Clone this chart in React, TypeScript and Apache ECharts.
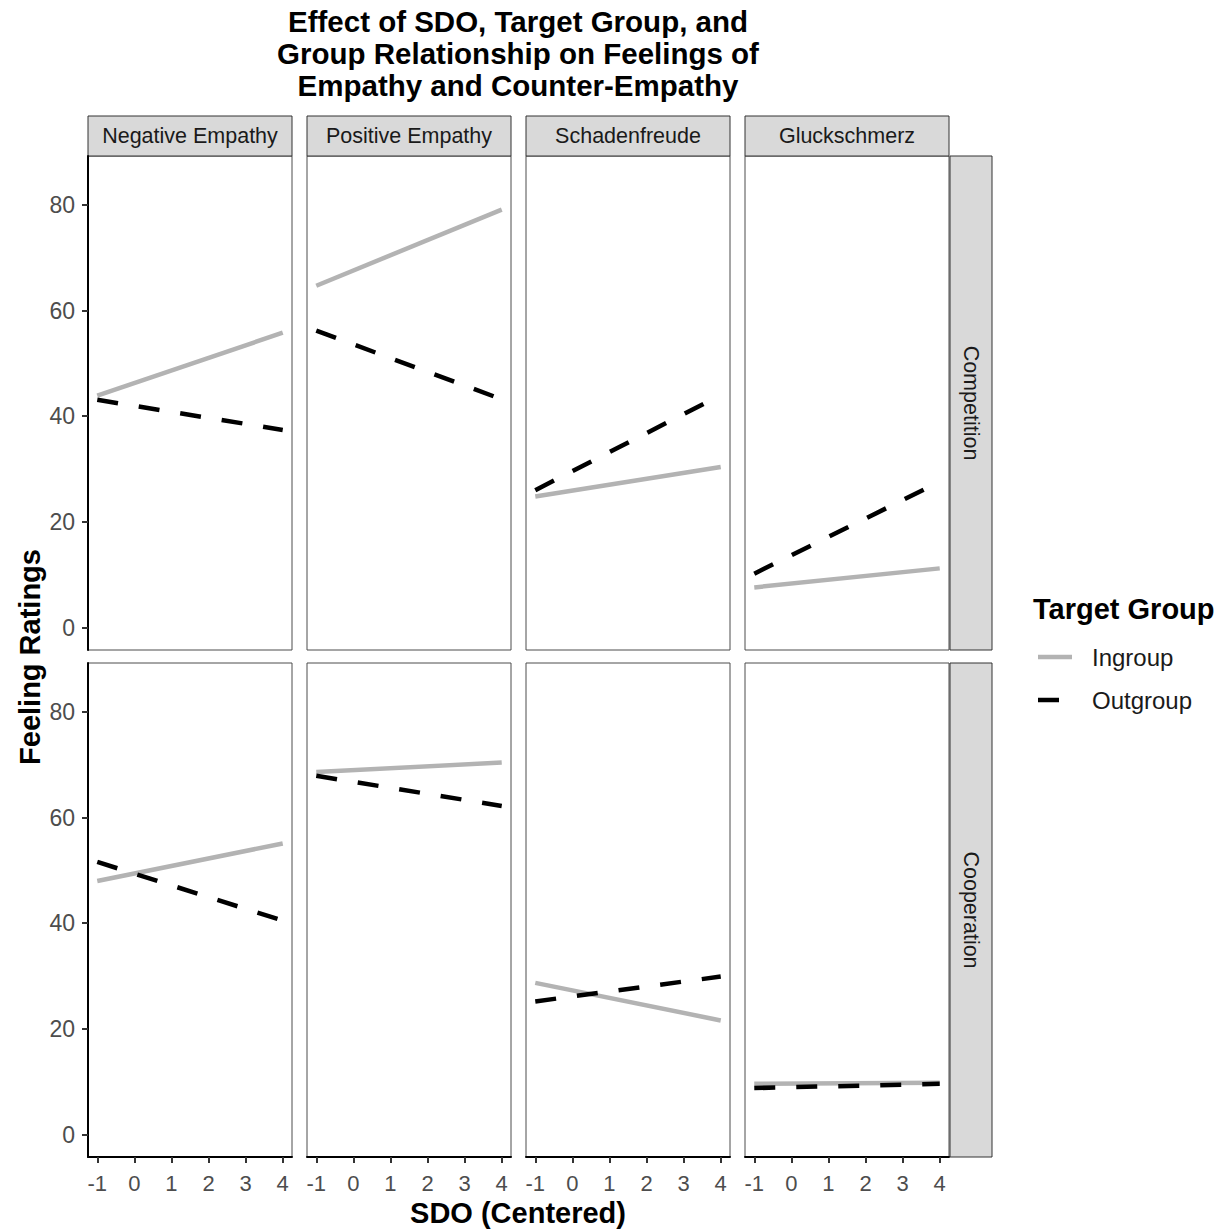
import React, { useEffect, useRef } from "react";
import * as echarts from "echarts";

const facets = ["Negative Empathy", "Positive Empathy", "Schadenfreude", "Gluckschmerz"];
const relationships = ["Competition", "Cooperation"];
const groups = ["Ingroup", "Outgroup"];
const sdoEnds = [-1, 4];
const xTicks = [-1, 0, 1, 2, 3, 4];
const yTicks = [0, 20, 40, 60, 80];
// fitted values at SDO = -1 and SDO = 4, one pair per facet
const ingroupCompetition = [[43.9, 55.8], [64.7, 79.1], [24.8, 30.4], [7.6, 11.2]];
const outgroupCompetition = [[43.1, 37.4], [56.2, 43.2], [26.0, 44.0], [10.2, 27.6]];
const ingroupCooperation = [[48.0, 55.1], [68.6, 70.4], [28.7, 21.6], [9.6, 9.8]];
const outgroupCooperation = [[51.6, 40.5], [67.9, 62.2], [25.2, 29.9], [8.8, 9.6]];

const titleLines = ["Effect of SDO, Target Group, and", "Group Relationship on Feelings of", "Empathy and Counter-Empathy"];

const FONT = "'Liberation Sans', Arial, Helvetica, sans-serif";
const IN_COLOR = "#B3B3B3";
const OUT_COLOR = "#000000";

export default function App() {
  const ref = useRef<HTMLDivElement>(null);
  useEffect(() => {
    if (!ref.current) return;
    const chart = echarts.init(ref.current, undefined, { renderer: "svg" });
    const panelLeft = (c: number) => 88 + c * 219;
    const panelW = 204;
    const panelTop = [156, 663];
    const panelH = 494;

    const grids: any[] = [];
    const xAxes: any[] = [];
    const yAxes: any[] = [];
    const series: any[] = [];
    const graphic: any[] = [];
    const dataByRow = [
      [ingroupCompetition, outgroupCompetition],
      [ingroupCooperation, outgroupCooperation],
    ];

    for (let r = 0; r < 2; r++) {
      for (let c = 0; c < 4; c++) {
        const idx = r * 4 + c;
        grids.push({
          left: panelLeft(c),
          top: panelTop[r],
          width: panelW,
          height: panelH,
          show: true,
          borderColor: "#4d4d4d",
          borderWidth: 1,
          backgroundColor: "#fff",
        });
        const bottomRow = r === 1;
        const firstCol = c === 0;
        xAxes.push({
          gridIndex: idx,
          type: "value",
          min: -1.25,
          max: 4.25,
          splitLine: { show: false },
          axisLine: { show: bottomRow, onZero: false, lineStyle: { color: "#000", width: 2 } },
          axisTick: {
            show: bottomRow,
            customValues: xTicks,
            length: 6,
            lineStyle: { color: "#333", width: 2 },
          },
          axisLabel: {
            show: bottomRow,
            customValues: xTicks,
            formatter: (v: number) => String(v),
            fontSize: 22,
            color: "#4d4d4d",
            fontFamily: FONT,
            margin: 15,
          },
        });
        yAxes.push({
          gridIndex: idx,
          type: "value",
          min: -4.25,
          max: 89.25,
          splitLine: { show: false },
          axisLine: { show: firstCol, onZero: false, lineStyle: { color: "#000", width: 2 } },
          axisTick: {
            show: firstCol,
            customValues: yTicks,
            length: 6,
            lineStyle: { color: "#333", width: 2 },
          },
          axisLabel: {
            show: firstCol,
            customValues: yTicks,
            formatter: (v: number) => String(v),
            fontSize: 23,
            color: "#4d4d4d",
            fontFamily: FONT,
            margin: 13,
          },
        });
        groups.forEach((g, gi) => {
          const vals = dataByRow[r][gi][c];
          series.push({
            type: "line",
            name: g,
            xAxisIndex: idx,
            yAxisIndex: idx,
            data: sdoEnds.map((x, i) => [x, vals[i]]),
            showSymbol: false,
            symbol: "none",
            z: 2 + gi,
            lineStyle: {
              color: gi === 0 ? IN_COLOR : OUT_COLOR,
              width: 4.5,
              type: gi === 0 ? "solid" : [21, 21],
              cap: "butt",
            },
          });
        });
      }
    }

    // top strips
    facets.forEach((f, c) => {
      graphic.push({
        type: "rect",
        shape: { x: panelLeft(c), y: 116, width: panelW, height: 40 },
        style: { fill: "#D9D9D9", stroke: "#333", lineWidth: 1 },
      });
      graphic.push({
        type: "text",
        x: panelLeft(c) + panelW / 2,
        y: 136,
        style: {
          text: f,
          fill: "#1a1a1a",
          font: `21.5px ${FONT}`,
          textAlign: "center",
          textVerticalAlign: "middle",
        },
      });
    });
    // right strips
    relationships.forEach((rel, r) => {
      graphic.push({
        type: "rect",
        shape: { x: 950, y: panelTop[r], width: 42, height: panelH },
        style: { fill: "#D9D9D9", stroke: "#333", lineWidth: 1 },
      });
      graphic.push({
        type: "text",
        x: 971,
        y: panelTop[r] + panelH / 2,
        rotation: -Math.PI / 2,
        style: {
          text: rel,
          fill: "#1a1a1a",
          font: `21.5px ${FONT}`,
          textAlign: "center",
          textVerticalAlign: "middle",
        },
      });
    });
    // title
    titleLines.forEach((t, i) => {
      graphic.push({
        type: "text",
        x: 518,
        y: 21 + i * 32,
        style: {
          text: t,
          fill: "#000",
          font: `bold 29.5px ${FONT}`,
          textAlign: "center",
          textVerticalAlign: "middle",
        },
      });
    });
    // axis titles
    graphic.push({
      type: "text",
      x: 30,
      y: 657,
      rotation: Math.PI / 2,
      style: {
        text: "Feeling Ratings",
        fill: "#000",
        font: `bold 29px ${FONT}`,
        textAlign: "center",
        textVerticalAlign: "middle",
      },
    });
    graphic.push({
      type: "text",
      x: 518,
      y: 1213,
      style: {
        text: "SDO (Centered)",
        fill: "#000",
        font: `bold 29px ${FONT}`,
        textAlign: "center",
        textVerticalAlign: "middle",
      },
    });
    // legend
    graphic.push({
      type: "text",
      x: 1033,
      y: 609,
      style: {
        text: "Target Group",
        fill: "#000",
        font: `bold 29px ${FONT}`,
        textAlign: "left",
        textVerticalAlign: "middle",
      },
    });
    groups.forEach((g, gi) => {
      const y = 657 + gi * 43;
      graphic.push({
        type: "line",
        shape: { x1: 1038, y1: y, x2: 1072, y2: y },
        style: {
          stroke: gi === 0 ? IN_COLOR : OUT_COLOR,
          lineWidth: 4.5,
          lineDash: gi === 0 ? null : [21, 21],
          lineCap: "butt",
        },
      });
      graphic.push({
        type: "text",
        x: 1092,
        y,
        style: {
          text: g,
          fill: "#1a1a1a",
          font: `24px ${FONT}`,
          textAlign: "left",
          textVerticalAlign: "middle",
        },
      });
    });

    chart.setOption({
      animation: false,
      backgroundColor: "#fff",
      grid: grids,
      xAxis: xAxes,
      yAxis: yAxes,
      series,
      graphic,
    });
    return () => chart.dispose();
  }, []);
  return (
    <div
      ref={ref}
      style={{ position: "fixed", left: 0, top: 0, width: 1228, height: 1230 }}
    />
  );
}
